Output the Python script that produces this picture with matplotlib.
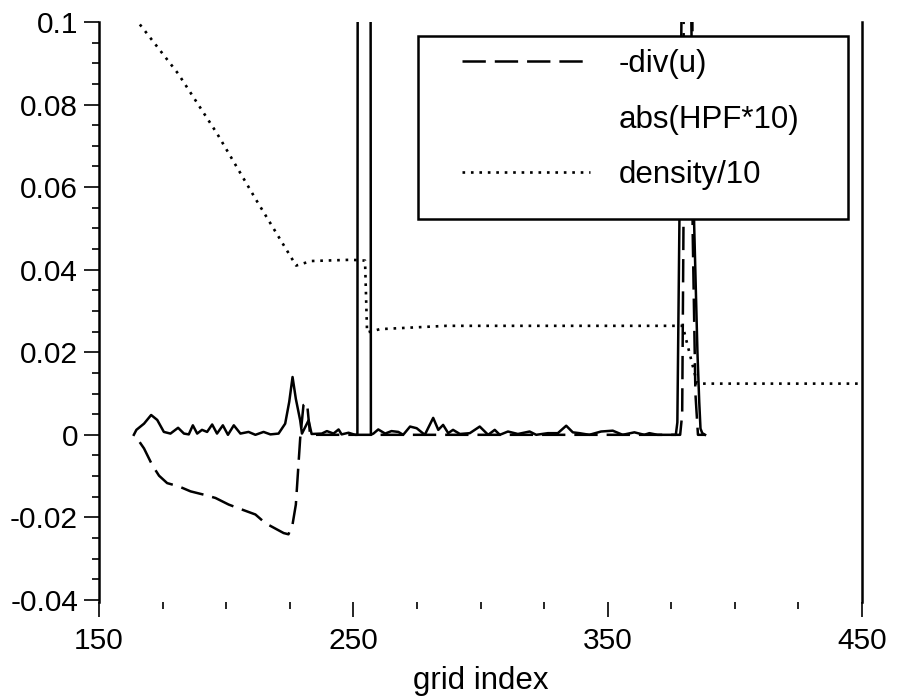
import matplotlib
matplotlib.use("Agg")
import matplotlib.pyplot as plt
from matplotlib.patches import Rectangle
from matplotlib.ticker import MultipleLocator

plt.rcParams['font.family'] = ['Liberation Sans', 'DejaVu Sans']

# -div(u)
div_x = [164.0, 167.7, 170.9, 173.6, 176.8, 181.4, 186.0, 191.2, 195.8, 201.0,
         206.2, 211.5, 215.4, 219.9, 222.6, 224.5, 226.1, 227.4, 228.5, 229.1,
         230.4, 231.8, 233.0, 378.5, 379.3, 379.8, 380.2, 383.0, 383.4, 384.5,
         385.5, 388.3]
div_y = [0.0, -0.0033, -0.0073, -0.0099, -0.0117, -0.0125, -0.0137, -0.0145, -0.0153, -0.0169,
         -0.0181, -0.0193, -0.0214, -0.0229, -0.0238, -0.0241, -0.0217, -0.0169, -0.0065, -0.0009,
         0.0072, 0.0077, 0.0, 0.0, 0.005, 0.05, 0.3, 0.3, 0.05, 0.01,
         0.0, 0.0]

# abs(HPF*10)
hpf_x = [163.7, 164.7, 167.7, 170.5, 172.9, 175.5, 178.1, 181.1, 183.4, 185.3,
         186.9, 188.6, 190.5, 192.5, 194.5, 196.4, 198.7, 200.7, 203.0, 205.6,
         208.8, 211.5, 214.7, 217.4, 220.6, 223.2, 224.8, 226.1, 227.4, 229.1,
         229.8, 232.4, 233.6, 237.6, 239.6, 242.2, 244.2, 245.4, 248.1, 250.7,
         251.6, 252.2, 256.3, 256.9, 257.9, 259.8, 262.5, 265.0, 267.7, 269.6,
         272.3, 274.9, 278.1, 281.4, 283.4, 285.3, 287.3, 289.2, 291.9, 295.8,
         299.7, 303.0, 305.6, 307.6, 310.8, 314.7, 319.3, 321.9, 326.5, 330.4,
         333.7, 336.3, 338.9, 342.8, 347.4, 352.0, 355.9, 360.5, 364.4, 366.4,
         369.6, 376.8, 377.4, 378.2, 379.0, 379.3, 382.6, 382.9, 384.0, 385.3,
         386.0, 386.5, 387.2, 388.3]
hpf_y = [0.0, 0.0012, 0.0027, 0.0048, 0.0036, 0.0007, 0.0003, 0.0017, 0.0003, 0.0001,
         0.0023, 0.0003, 0.0012, 0.0007, 0.0025, 0.0003, 0.0023, 0.0, 0.0023, 0.0003,
         0.0007, 0.0, 0.0007, 0.0001, 0.0003, 0.0027, 0.008, 0.014, 0.0087, 0.0035,
         0.0003, 0.0035, 0.0002, 0.0003, 0.0009, 0.0003, 0.0013, 0.0001, 0.0005, 0.0,
         0.0, 0.6, 0.6, 0.0, 0.0003, 0.0013, 0.0003, 0.0009, 0.0007, 0.0,
         0.002, 0.0016, 0.0, 0.0041, 0.0012, 0.0024, 0.0004, 0.0012, 0.0002, 0.0004,
         0.002, 0.0, 0.0012, 0.0, 0.0008, 0.0002, 0.0008, 0.0, 0.0004, 0.0004,
         0.0022, 0.0006, 0.0004, 0.0, 0.0008, 0.001, 0.0, 0.0006, 0.0, 0.0004,
         0.0, 0.0, 0.003, 0.051, 0.1, 0.3, 0.3, 0.1, 0.051, 0.02,
         0.008, 0.0015, 0.0004, 0.0]

# density/10
dens_x = [164.0, 167.1, 181.1, 196.4, 211.7, 227.5, 233.5, 249.1, 254.6, 255.4,
          260.5, 286.6, 379.5, 385.2, 449.0]
dens_y = [0.101, 0.0986, 0.0875, 0.073, 0.057, 0.041, 0.0421, 0.0424, 0.0422, 0.0248,
          0.0256, 0.0264, 0.0264, 0.0124, 0.0124]

xticks = [150, 250, 350, 450]
yticks = [-0.04, -0.02, 0, 0.02, 0.04, 0.06, 0.08, 0.1]
ytick_labels = ["-0.04", "-0.02", "0", "0.02", "0.04", "0.06", "0.08", "0.1"]

fig = plt.figure(figsize=(9, 6.99), dpi=100)
ax = fig.add_axes([99 / 900, 1 - 602 / 699, 763 / 900, 580 / 699])

lw = 1.8
dash = (11.2 * 1.5 / lw, 4.3 * 1.5 / lw)
l_div, = ax.plot(div_x, div_y, color="black", lw=lw,
                 linestyle=(dash[0], dash), label="-div(u)")
l_hpf, = ax.plot(hpf_x, hpf_y, color="black", lw=lw, label="abs(HPF*10)")
l_den, = ax.plot(dens_x, dens_y, color="black", lw=1.9,
                 linestyle=(0, (1, 2.2)), label="density/10")

ax.set_xlim(150, 450)
ax.set_ylim(-0.0405, 0.1)

ax.spines["top"].set_visible(False)
ax.spines["bottom"].set_visible(False)
ax.spines["left"].set_linewidth(1.8)
ax.spines["right"].set_linewidth(1.8)

ax.set_xticks(xticks)
ax.xaxis.set_minor_locator(MultipleLocator(25))
ax.set_yticks(yticks)
ax.set_yticklabels(ytick_labels)
ax.yaxis.set_minor_locator(MultipleLocator(0.005))

ax.tick_params(axis="both", which="major", direction="out", length=10.8,
               width=1.2, labelsize=21.5)
ax.tick_params(axis="both", which="minor", direction="out", length=5, width=1.2)
ax.tick_params(axis="x", which="major", pad=7)
ax.tick_params(axis="y", which="major", pad=4.3)
ax.tick_params(right=False, which="both")

ax.set_xlabel("grid index", fontsize=22.5, labelpad=8)

box = Rectangle((418 / 900, 1 - 219 / 699), 430 / 900, 183 / 699,
                transform=fig.transFigure, facecolor="white", edgecolor="black",
                lw=1.8, zorder=4, clip_on=False)
ax.add_patch(box)

leg = ax.legend(handles=[l_div, l_hpf, l_den], loc="upper left",
                bbox_to_anchor=(462 / 900, 1 - 49 / 699), bbox_transform=fig.transFigure,
                frameon=False, borderpad=0, borderaxespad=0, handlelength=4.1,
                handletextpad=0.9, labelspacing=0.82, fontsize=22.5)
leg.set_zorder(5)
leg.legend_handles[0].set_linestyle((0, dash))
leg.legend_handles[1].set_visible(False)

fig.savefig("out.png", dpi=100)
